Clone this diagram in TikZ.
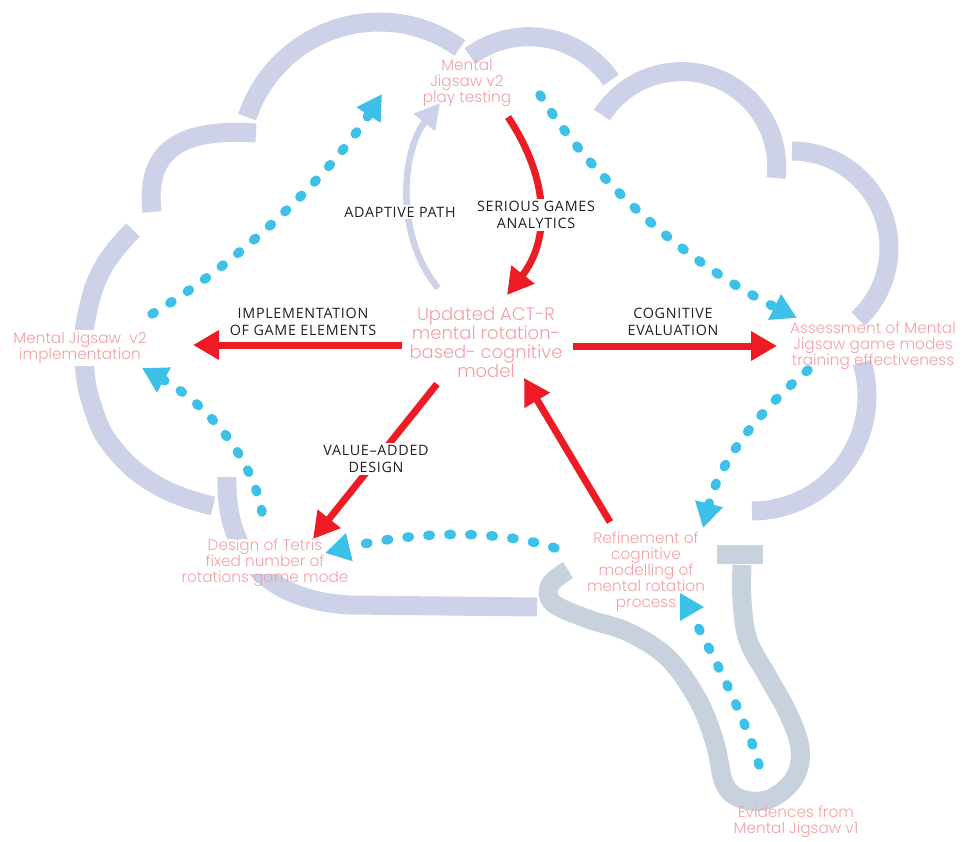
\documentclass[tikz,border=0pt]{standalone}
\usepackage{fontspec}
\setmainfont{Open Sans}
\newfontfamily\pinkfont{Poppins Light}
\newfontfamily\labelfont{Open Sans}[LetterSpace=5]
\usetikzlibrary{arrows.meta}
\definecolor{cloud}{HTML}{CDD2E8}
\definecolor{stem}{HTML}{C8D1DE}
\definecolor{pinktxt}{HTML}{F2A0A6}
\definecolor{redA}{HTML}{ED1C24}
\definecolor{blueA}{HTML}{3EC1E9}
\definecolor{lbl}{HTML}{231F20}
\begin{document}
\begin{tikzpicture}[x=1pt,y=-1pt,
  cloudline/.style={draw=cloud,line width=19pt},
  stemline/.style={draw=stem,line width=19pt},
  pinklabel/.style={text=pinktxt,font=\pinkfont\fontsize{15.3}{16}\selectfont,align=center,inner sep=2pt},
  biglabel/.style={text=pinktxt,font=\pinkfont\fontsize{18}{19}\selectfont,align=center,inner sep=1pt},
  blacklabel/.style={text=lbl,font=\labelfont\fontsize{14.3}{17}\selectfont,align=center,inner sep=2pt},
  redarrow/.style={draw=redA,line width=7pt,-{Triangle[length=26pt,width=28pt]}},
  bluedots/.style={draw=blueA,line width=9.5pt,line cap=round,dash pattern=on 2.5pt off 18.5pt},
  bluetip/.style={-{Triangle[length=25pt,width=27pt]}},
]
\useasboundingbox (0,0) rectangle (963,841);

% ---- cloud outline ----
\draw[cloudline] ([shift={(198.4:139)}]379,161) arc[start angle=198.4,end angle=305.6,radius=139];
\draw[cloudline] ([shift={(233.6:99.3)}]529,136) arc[start angle=233.6,end angle=325.7,radius=99.3];
\draw[cloudline] ([shift={(212.9:95)}]681.7,166.6) arc[start angle=212.9,end angle=366.9,radius=95];
\draw[cloudline] ([shift={(270:97)}]792,248) arc[start angle=270,end angle=407,radius=97];
\draw[cloudline] ([shift={(-17:115)}]752,396) arc[start angle=-17,end angle=90,radius=115];
\draw[cloudline] (256,133) .. controls (180,128) and (145,150) .. (152,212);
\draw[cloudline] plot[smooth,tension=0.75] coordinates {(133,230) (104,266) (88,310) (84,355) (92,405) (115,450) (160,487) (213,506)};
\begin{scope}[even odd rule]
  \clip (0,0) rectangle (963,841) (200,539) rectangle (334,574);
  \draw[cloudline] (227,477) .. controls (225,545) and (258,600) .. (350,605) -- (537,607);
\end{scope}

% ---- stem ----
\draw[stemline] plot[smooth,tension=0.6] coordinates {(568,570) (550,585) (553,603) (588,619) (628,632) (668,658) (698,700) (715,743) (725,785) (745,800) (772,798) (795,777) (800,748) (788,713) (768,677) (748,640) (742,600) (742,565)};
\fill[stem] (717,545) rectangle (763,564);

% ---- coordinates ----
\coordinate (sgaS) at (508,117);
\coordinate (sgaE) at (507,295);
\coordinate (implS) at (402,345);
\coordinate (implE) at (193,345);
\coordinate (cogS) at (573,346);
\coordinate (cogE) at (777,346);
\coordinate (vadS) at (437,384);
\coordinate (vadE) at (313,539);
\coordinate (refS) at (610,522);
\coordinate (refE) at (524,378);
\coordinate (adS) at (438,288);
\coordinate (adE) at (440,103);
\coordinate (bA1) at (152,314);
\coordinate (bA2) at (382,94);
\coordinate (bB1) at (540,95);
\coordinate (bB2) at (797,318);
\coordinate (bC1) at (808,370);
\coordinate (bC2) at (703,528);
\coordinate (bD1) at (555,548);
\coordinate (bD2) at (325,553);
\coordinate (bE1) at (262,512);
\coordinate (bE2) at (142,368);
\coordinate (bF1) at (759,765);
\coordinate (bF2) at (697,625);

% ---- adaptive path (lavender) ----
\draw[draw=cloud,line width=6.5pt,-{Triangle[length=25pt,width=26pt]}] (adS) .. controls (394,235) and (402,150) .. (adE);

% ---- blue dotted arrows ----
\draw[bluedots,bluetip] (bA1) .. controls (240,262) and (330,175) .. (bA2);
\draw[bluedots,bluetip] (bB1) .. controls (590,175) and (680,260) .. (bB2);
\draw[bluedots,bluetip] (bC1) .. controls (760,410) and (720,460) .. (bC2);
\draw[bluedots,bluetip] (bD1) .. controls (500,530) and (420,530) .. (bD2);
\draw[bluedots,bluetip] (bE1) .. controls (250,450) and (200,400) .. (bE2);
\draw[bluedots] (bF1) .. controls (748,725) and (718,665) .. (bF2);
\fill[blueA] (680,593) -- (704,607) -- (680,621) -- cycle;

% ---- red arrows ----
\draw[redarrow] (sgaS) .. controls (550,180) and (550,240) .. (sgaE);
\draw[redarrow] (implS) -- (implE);
\draw[redarrow] (cogS) -- (cogE);
\draw[redarrow] (vadS) -- (vadE);
\draw[redarrow] (refS) -- (refE);

% ---- pink texts ----
\node[pinklabel] (play) at (467,83) {Mental\\Jigsaw v2\\play testing};
\node[biglabel] (model) at (486,342) {Updated ACT-R\\mental rotation-\\based- cognitive\\model};
\node[pinklabel,fill=white] (impl) at (80,348) {Mental Jigsaw~~v2\\implementation};
\node[pinklabel] (assess) at (873,346) {Assessment of Mental\\Jigsaw game modes\\training effectiveness};
\node[pinklabel] (tetris) at (265,563) {Design of Tetris\\fixed number of\\rotations game mode};
\node[pinklabel] (refine) at (646,572) {Refinement of\\cognitive\\modelling of\\mental rotation\\process};
\node[pinklabel] (evid) at (796,822) {Evidences from\\Mental Jigsaw v1};

% ---- black labels ----
\node[blacklabel,fill=white] (adlab) at (400,212) {ADAPTIVE PATH};
\node[blacklabel,fill=white] (sgalab) at (536,215) {SERIOUS GAMES\\ANALYTICS};
\node[blacklabel] (impllab) at (303,322) {IMPLEMENTATION\\OF GAME ELEMENTS};
\node[blacklabel] (coglab) at (673,322) {COGNITIVE\\EVALUATION};
\node[blacklabel,fill=white] (vadlab) at (376,459) {VALUE–ADDED\\DESIGN};
\end{tikzpicture}
\end{document}
